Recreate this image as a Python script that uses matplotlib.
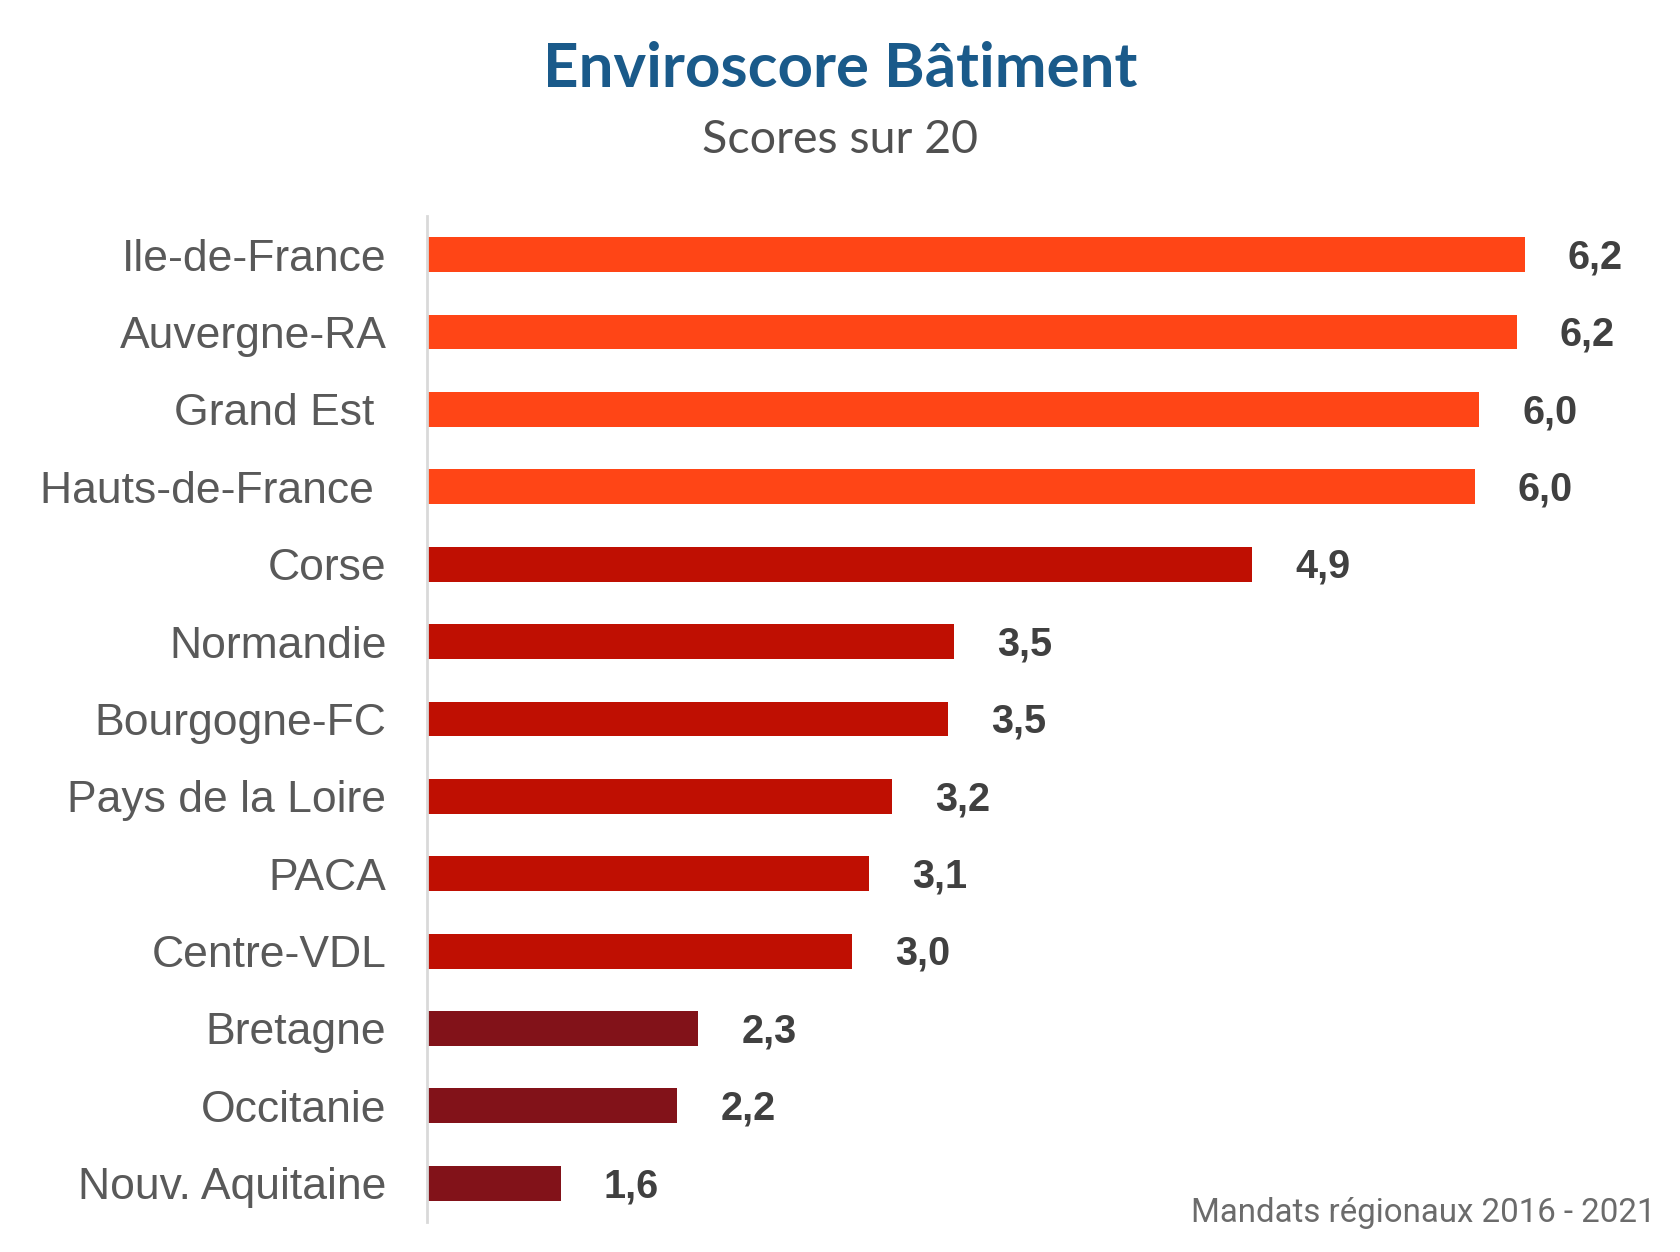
import matplotlib
matplotlib.use("Agg")
import matplotlib.pyplot as plt

# === DATA ===
regions = ["Ile-de-France", "Auvergne-RA", "Grand Est ", "Hauts-de-France ", "Corse",
           "Normandie", "Bourgogne-FC", "Pays de la Loire", "PACA", "Centre-VDL",
           "Bretagne", "Occitanie", "Nouv. Aquitaine"]
scores = [6.23, 6.19, 6.01, 5.99, 4.92, 3.49, 3.46, 3.19, 3.08, 3.00, 2.26, 2.16, 1.60]
groups = ["high"] * 4 + ["mid"] * 6 + ["low"] * 3

COLORS = {"high": "#FF4516", "mid": "#BF0F02", "low": "#821219"}

# === PLOT ===
fig = plt.figure(figsize=(16.8, 12.52), dpi=100)
ax = fig.add_axes([0.254, 0.024, 0.746, 0.8035])

ypos = list(range(len(regions)))
ax.barh(ypos, scores, height=0.45, left=0,
        color=[COLORS[g] for g in groups])

ax.set_xlim(0.957, 6.975)
ax.set_ylim(12.5, -0.5)

ax.set_yticks(ypos)
ax.set_yticklabels(regions, fontsize=32, color="#595959",
                   fontfamily="Liberation Sans")
ax.tick_params(axis="y", length=0, pad=29)
ax.set_xticks([])

for s in ["top", "right", "bottom"]:
    ax.spines[s].set_visible(False)
ax.spines["left"].set_color("#D9D9D9")
ax.spines["left"].set_linewidth(2)

# value labels, French decimal comma
for y, v in zip(ypos, scores):
    ax.annotate(f"{v:.1f}".replace(".", ","), xy=(v, y), xytext=(31, -2),
                textcoords="offset points", va="center", ha="left",
                fontsize=28.5, fontweight="bold", color="#404040",
                fontfamily="Liberation Sans")

fig.text(0.5, 0.945, "Enviroscore Bâtiment", ha="center", va="center",
         fontsize=44.5, fontweight="bold", color="#1A5A8A", fontfamily="Lato")
fig.text(0.5, 0.888, "Scores sur 20", ha="center", va="center",
         fontsize=33.5, color="#505050", fontfamily="Lato")
fig.text(0.9857, 0.031, "Mandats régionaux 2016 - 2021", ha="right", va="center",
         fontsize=23.8, color="#6B6B6B", fontfamily="Roboto")

fig.savefig("out.png", dpi=100)
